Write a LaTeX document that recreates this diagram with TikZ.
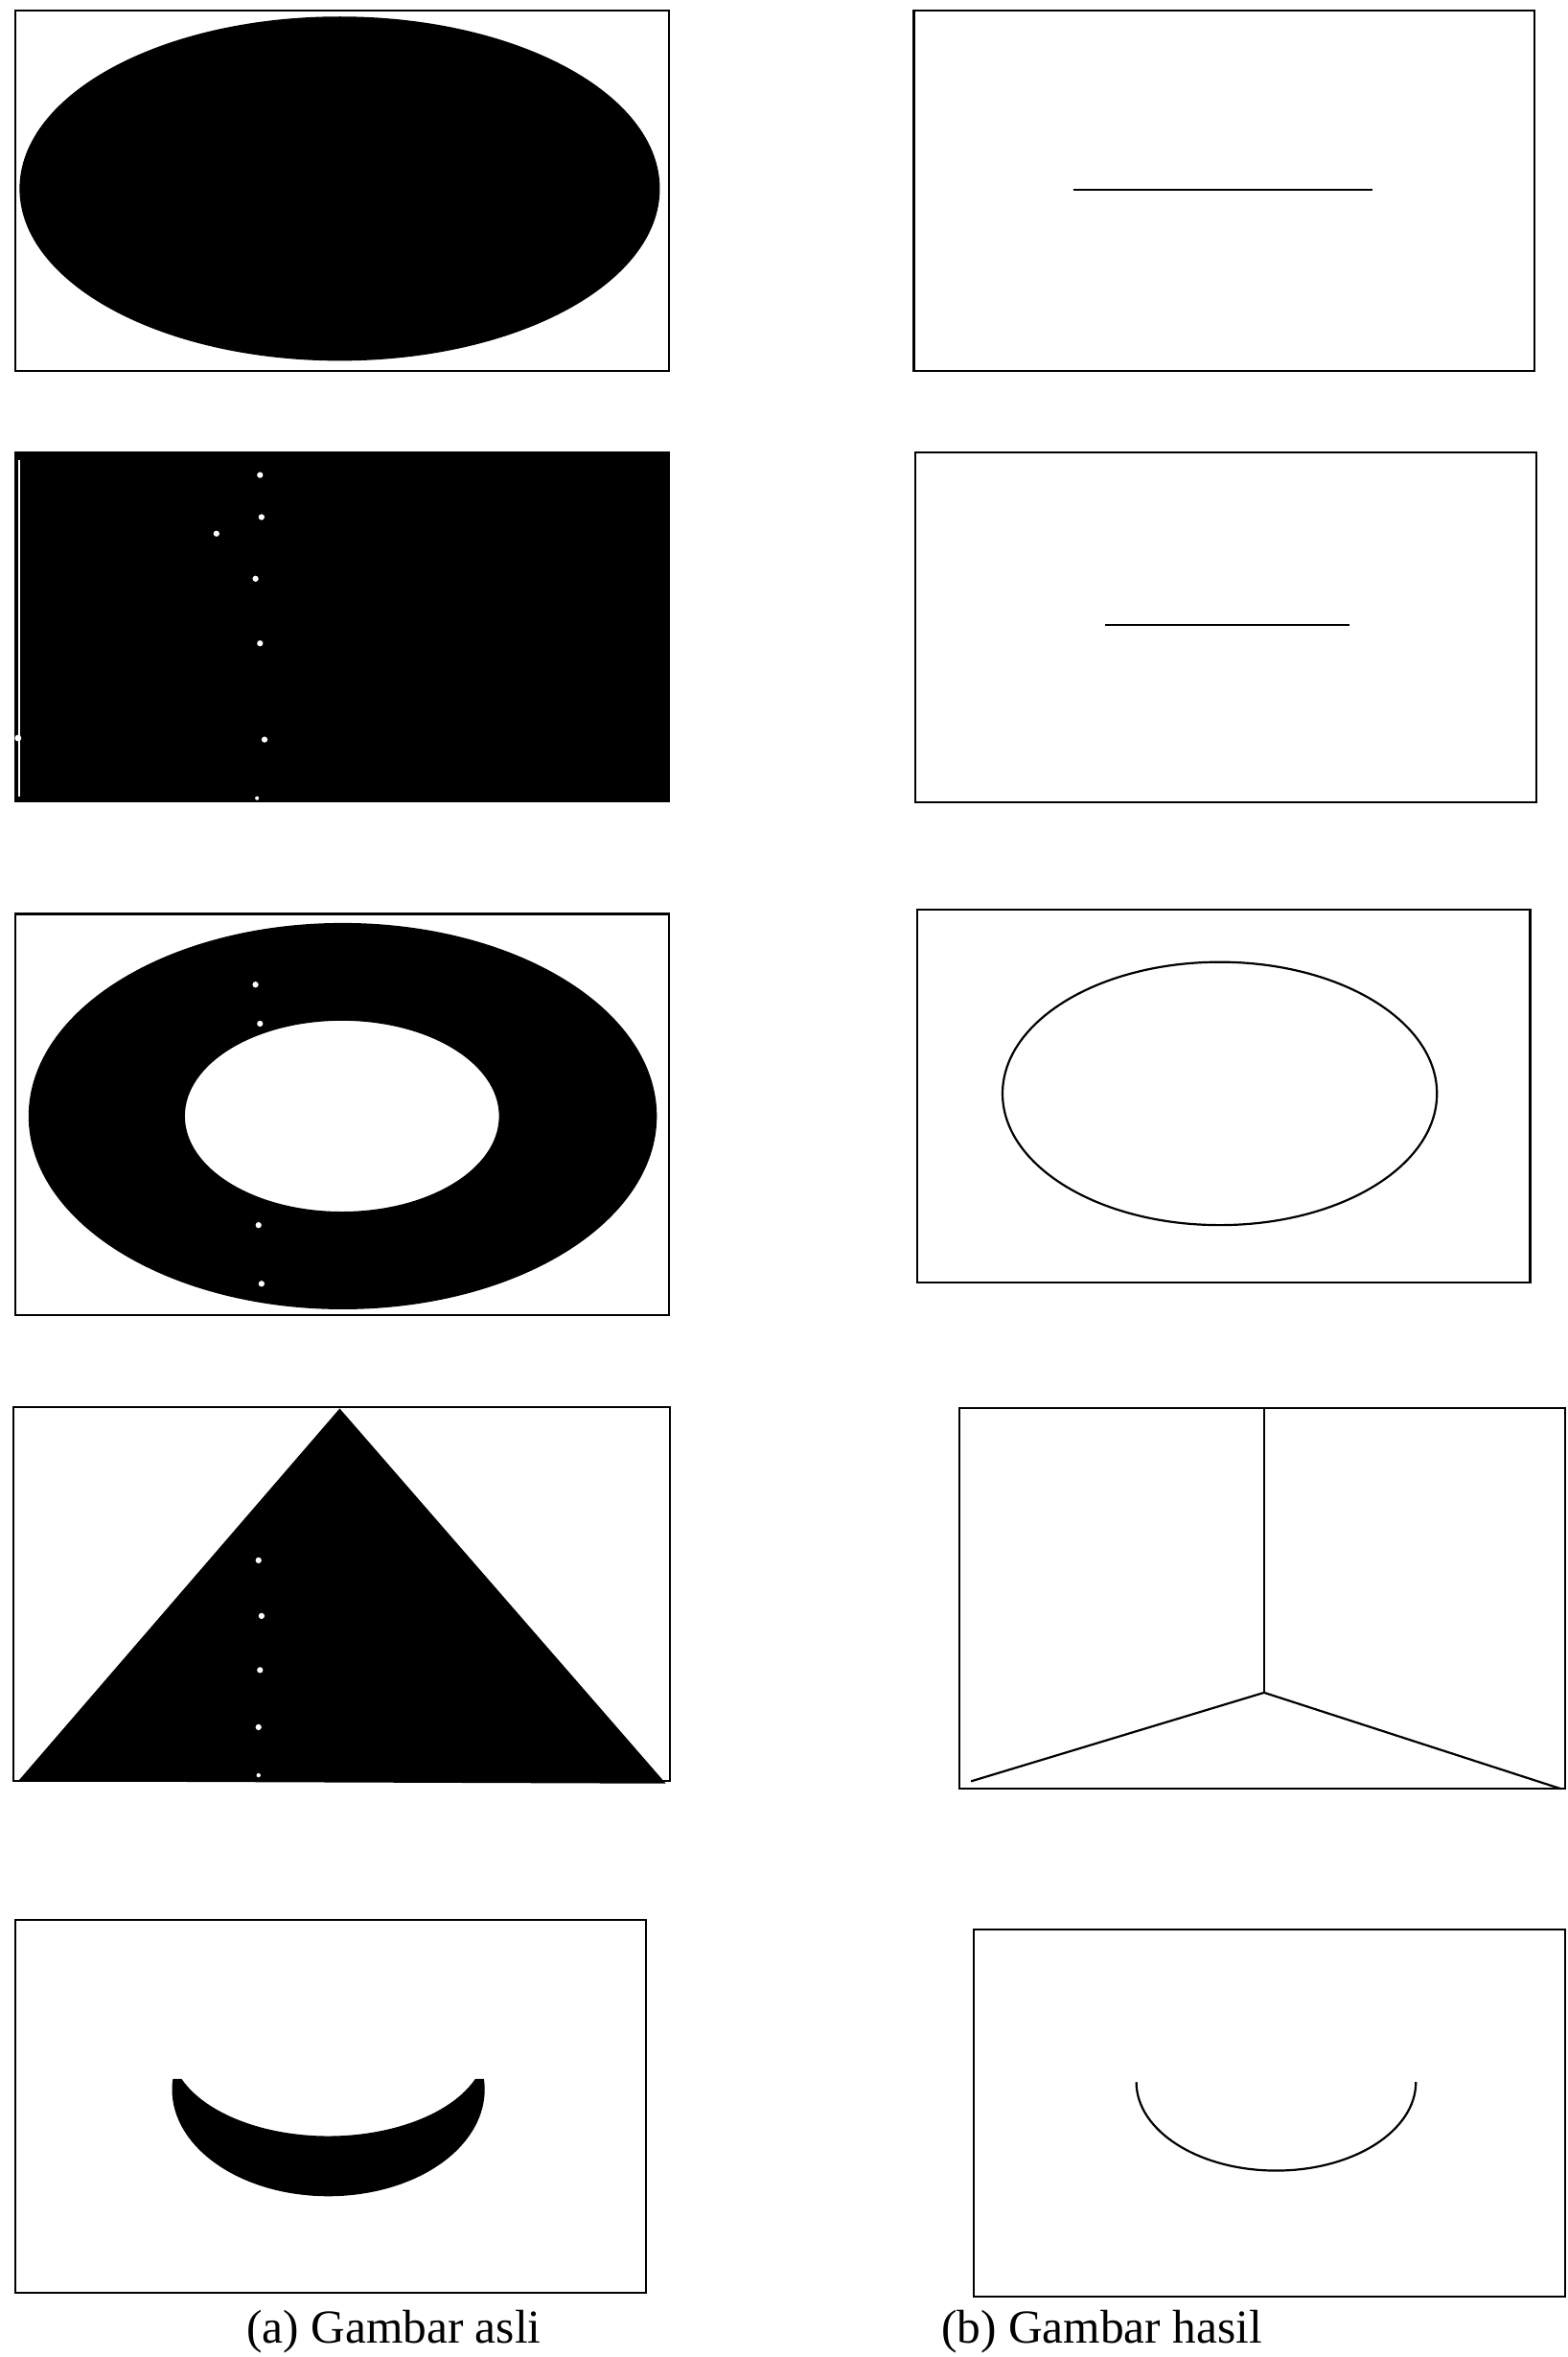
\documentclass[tikz,border=0pt]{standalone}
\usepackage{fontspec}
\setmainfont{Liberation Serif}
\begin{document}
\begin{tikzpicture}[x=1pt,y=-1pt,
  frame/.style={draw=black,line width=1.3pt},
  result/.style={draw=black,line width=1.4pt},
  solid/.style={fill=black},
  speck/.style={fill=white},
  caption/.style={font=\fontsize{31.5}{36}\selectfont,anchor=base,inner sep=0pt}]
\useasboundingbox (0,0) rectangle (1043,1568);
\fill[white] (0,0) rectangle (1043,1568);

% ---------- (a) left column ----------
% 1: filled ellipse
\draw[frame] (10,7) rectangle (445,247);
\fill[solid] (226,125.5) ellipse [x radius=213, y radius=114.5];

% 2: filled rectangle
\fill[solid] (10,301) rectangle (445,533);
\draw[frame] (10,301) rectangle (445,533);
\draw[white,line width=1pt] (12.8,306) -- (12.8,530);
\foreach \p in {(173,316),(174,344),(144,355),(170,385),(173,428),(176,492)}
  \fill[speck] \p circle [radius=2];
\fill[speck] (171,531) circle [radius=1.3];
\fill[speck] (12,491) circle [radius=2.2];

% 3: filled ring
\draw[frame] (10,608) rectangle (445,875);
\fill[solid,even odd rule] (228,742.5) ellipse [x radius=209, y radius=128.5]
  (227.5,742.5) ellipse [x radius=104.5, y radius=63.5];
\foreach \p in {(170,655),(173,681),(172,815),(174,854)}
  \fill[speck] \p circle [radius=2];

% 4: filled triangle
\draw[frame] (9,936) rectangle (446,1185);
\fill[solid] (226,937) -- (12,1185) -- (443,1186.5) -- cycle;
\foreach \p in {(172,1038),(174,1075),(173,1111),(172,1149)}
  \fill[speck] \p circle [radius=2];
\fill[speck] (172,1181) circle [radius=1.4];

% 5: filled crescent
\draw[frame] (10,1277) rectangle (430,1525);
\fill[solid] (120.8,1383) -- (115,1383)
  arc [start angle=185.7, end angle=-5.7, x radius=104, y radius=71]
  -- (316.2,1383)
  arc [start angle=21.5, end angle=158.5, x radius=105, y radius=60] -- cycle;

% ---------- (b) right column ----------
% 1
\draw[frame] (608,7) rectangle (1021,247);
\draw[result] (714,126.5) -- (913,126.5);
% 2
\draw[frame] (609,301) rectangle (1022,534);
\draw[result] (735.5,416) -- (897.5,416);
% 3
\draw[frame] (610,605) rectangle (1018,853);
\draw[result] (811.5,727.5) ellipse [x radius=144.5, y radius=87.5];
% 4
\draw[frame] (638,937) rectangle (1041.5,1190);
\draw[result] (841,937) -- (841,1126);
\draw[result] (646,1185) -- (841,1126) -- (1038.5,1190);
% 5
\draw[frame] (648,1283.5) rectangle (1041.5,1528);
\draw[result] (756,1385) arc [start angle=180, end angle=0, x radius=93, y radius=59];

% ---------- captions ----------
\node[caption] (capa) at (262,1559) {(a) Gambar asli};
\node[caption] (capb) at (733,1559) {(b) Gambar hasil};
\end{tikzpicture}
\end{document}
